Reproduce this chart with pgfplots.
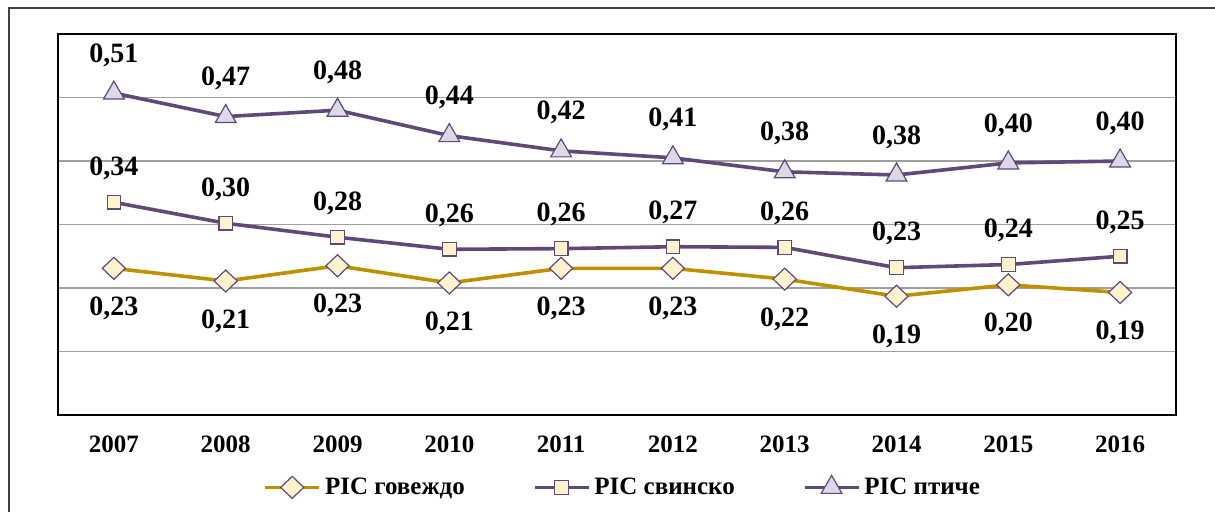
\documentclass[border=0pt]{standalone}
\usepackage{pgfplots}
\pgfplotsset{compat=1.18}
\usepackage{fontspec}
\setmainfont{Liberation Serif}
\definecolor{gold}{HTML}{BF9000}
\definecolor{purp}{HTML}{5F497A}
\definecolor{cream}{HTML}{FFF2CC}
\definecolor{lav}{HTML}{DDD8E8}
\newcommand{\lf}{\fontsize{12.5}{15}\selectfont\bfseries}
\newcommand{\nf}{\fontsize{14}{16}\selectfont\bfseries}
\begin{document}
\begin{tikzpicture}
\useasboundingbox (0,0) rectangle (607.5pt,255.5pt);
\clip (0,0) rectangle (607.5pt,255.5pt);
\draw[black!75, line width=0.7pt] (4.5pt,-5pt) -- (4.5pt,251.5pt) -- (620pt,251.5pt);
\begin{axis}[
  at={(29pt,48pt)}, anchor=south west,
  width=559pt, height=190.5pt, scale only axis,
  xmin=2006.5, xmax=2016.5, ymin=0, ymax=0.6,
  xtick={2007,2008,2009,2010,2011,2012,2013,2014,2015,2016},
  xticklabels={2007,2008,2009,2010,2011,2012,2013,2014,2015,2016},
  ytick={0.1,0.2,0.3,0.4,0.5}, yticklabels={},
  major tick length=0pt,
  ymajorgrids, grid style={gray!75, line width=0.8pt},
  axis line style={black, line width=1.1pt},
  xticklabel style={font=\lf, yshift=-7pt},
  point meta=explicit symbolic,
  nodes near coords,
  every node near coord/.append style={font=\nf, anchor=center, text=black},
  legend columns=3,
  legend style={draw=none, fill=none, font=\lf, at={(0.506,-0.19)}, anchor=center,
    /tikz/every even column/.append style={column sep=32pt}},
  legend image code/.code={%
    \draw[mark repeat=2,mark phase=2] plot coordinates {(0pt,0pt) (13.5pt,0pt) (27pt,0pt)};},
]
\addplot[gold, line width=1.8pt, mark=diamond*, mark size=5.5pt,
  mark options={xscale=1.4, fill=cream, draw=purp, line width=0.6pt},
  every node near coord/.append style={yshift=-20pt}]
  table[x=x, y=y, meta=l] {
x y l
2007 0.231 0,23
2008 0.211 0,21
2009 0.235 0,23
2010 0.208 0,21
2011 0.231 0,23
2012 0.231 0,23
2013 0.214 0,22
2014 0.187 0,19
2015 0.205 0,20
2016 0.193 0,19
};
\addlegendentry{PIC говеждо}
\addplot[purp, line width=1.8pt, mark=square*, mark size=3.4pt,
  mark options={fill=cream, draw=purp, line width=0.6pt},
  every node near coord/.append style={yshift=17pt}]
  table[x=x, y=y, meta=l] {
x y l
2007 0.335 0,34
2008 0.302 0,30
2009 0.280 0,28
2010 0.261 0,26
2011 0.262 0,26
2012 0.265 0,27
2013 0.264 0,26
2014 0.232 0,23
2015 0.237 0,24
2016 0.250 0,25
};
\addlegendentry{PIC свинско}
\addplot[purp, line width=1.8pt, mark=triangle*, mark size=6pt,
  mark options={fill=lav, draw=purp, line width=0.6pt},
  every node near coord/.append style={yshift=19pt}]
  table[x=x, y=y, meta=l] {
x y l
2007 0.507 0,51
2008 0.470 0,47
2009 0.480 0,48
2010 0.440 0,44
2011 0.416 0,42
2012 0.405 0,41
2013 0.383 0,38
2014 0.378 0,38
2015 0.397 0,40
2016 0.400 0,40
};
\addlegendentry{PIC птиче}
\end{axis}
\end{tikzpicture}
\end{document}
